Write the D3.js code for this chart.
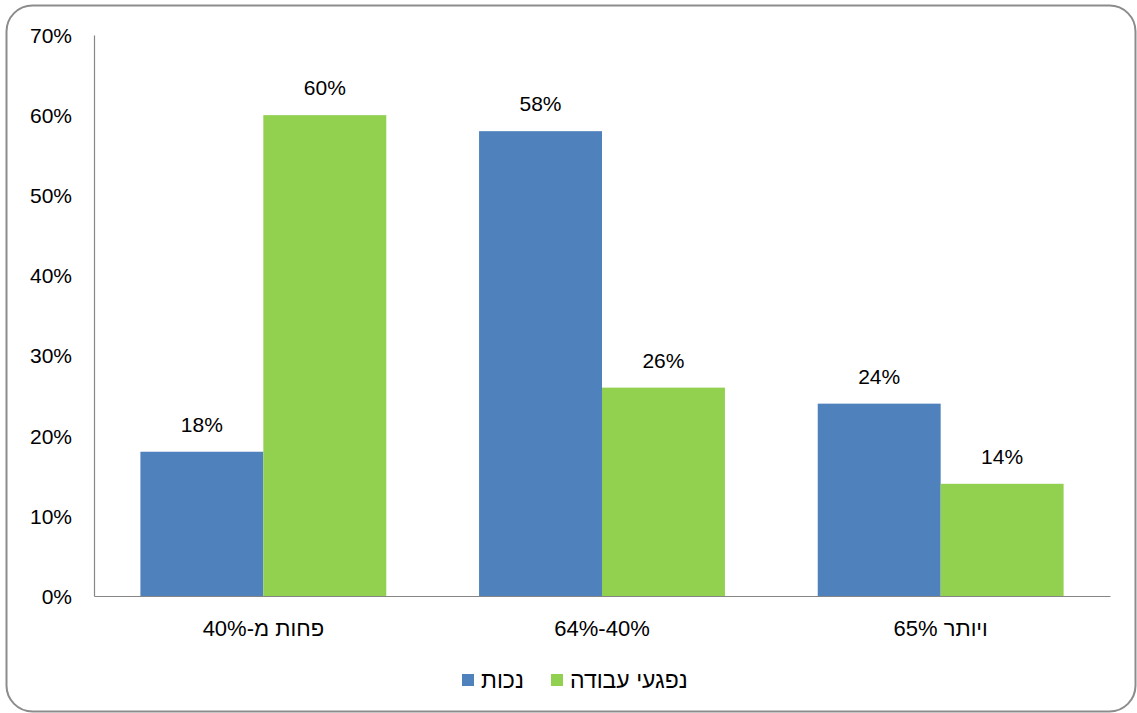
<!DOCTYPE html>
<html>
<head>
<meta charset="utf-8">
<script src="https://cdn.jsdelivr.net/npm/d3@7"></script>
<style>
  body { margin: 0; background: #fff; }
  text { font-family: "Liberation Sans", Arial, sans-serif; fill: #000; }
</style>
</head>
<body>
<div id="chart"></div>
<script>
// data
var categories = ["פחות מ-40%", "64%-40%", "65% ויותר"];
var seriesNames = ["נכות", "נפגעי עבודה"];
var disability = [18, 58, 24];
var workInjury = [60, 26, 14];
var yTicks = [0, 10, 20, 30, 40, 50, 60, 70];
var colors = ["#4F81BD", "#92D050"];

var W = 1137, H = 713;
var margin = {top: 35, right: 27, bottom: 117, left: 94},
    width = W - margin.left - margin.right,
    height = H - margin.top - margin.bottom;

var svg = d3.select("#chart").append("svg")
    .attr("width", W)
    .attr("height", H);

// outer rounded border
svg.append("rect")
    .attr("x", 6.5).attr("y", 5.5)
    .attr("width", 1129).attr("height", 706)
    .attr("rx", 26).attr("ry", 26)
    .attr("fill", "none")
    .attr("stroke", "#8c8c8c")
    .attr("stroke-width", 2);

var g = svg.append("g")
    .attr("transform", "translate(" + margin.left + "," + margin.top + ")");

var x = d3.scaleBand().domain(categories).range([0, width]).paddingInner(0.274).paddingOuter(0.137);
var x1 = d3.scaleBand().domain([0, 1]).range([0, x.bandwidth()]);
var y = d3.scaleLinear().domain([0, 70]).range([height, 0]);

// y axis
var yAxis = d3.axisLeft(y).tickValues(yTicks).tickSize(0).tickPadding(22)
    .tickFormat(function(d) { return d + "%"; });
var ya = g.append("g").call(yAxis);
ya.select(".domain").attr("stroke", "#868686").attr("stroke-width", 1.2);
ya.selectAll("text").style("font-size", "21px").attr("dy", "0.35em");

// bars
var rows = categories.map(function(c, i) {
  return {cat: c, vals: [disability[i], workInjury[i]]};
});

var groups = g.selectAll(".grp").data(rows).enter().append("g")
    .attr("class", "grp")
    .attr("transform", function(d) { return "translate(" + x(d.cat) + ",0)"; });

groups.selectAll("rect").data(function(d) { return d.vals; }).enter().append("rect")
    .attr("x", function(d, i) { return x1(i); })
    .attr("y", function(d) { return y(d); })
    .attr("width", x1.bandwidth())
    .attr("height", function(d) { return height - y(d); })
    .attr("fill", function(d, i) { return colors[i]; });

groups.selectAll(".lbl").data(function(d) { return d.vals; }).enter().append("text")
    .attr("class", "lbl")
    .attr("x", function(d, i) { return x1(i) + x1.bandwidth() / 2; })
    .attr("y", function(d) { return y(d) - 20; })
    .attr("text-anchor", "middle")
    .style("font-size", "21px")
    .text(function(d) { return d + "%"; });

// x axis
var xAxis = d3.axisBottom(x).tickSize(0).tickPadding(24);
var xa = g.append("g").attr("transform", "translate(0," + height + ")").call(xAxis);
xa.select(".domain").attr("stroke", "#868686").attr("stroke-width", 1.2);
xa.selectAll("text").style("font-size", "22px");

// legend
var legendItems = [
  {name: seriesNames[0], color: colors[0], x: 462},
  {name: seriesNames[1], color: colors[1], x: 551}
];
var leg = svg.selectAll(".leg").data(legendItems).enter().append("g")
    .attr("class", "leg")
    .attr("transform", function(d) { return "translate(" + d.x + ",674)"; });
leg.append("rect").attr("width", 12).attr("height", 12).attr("fill", function(d) { return d.color; });
leg.append("text").attr("x", 19).attr("y", 14)
    .style("font-size", "23px")
    .text(function(d) { return d.name; });
</script>
</body>
</html>
